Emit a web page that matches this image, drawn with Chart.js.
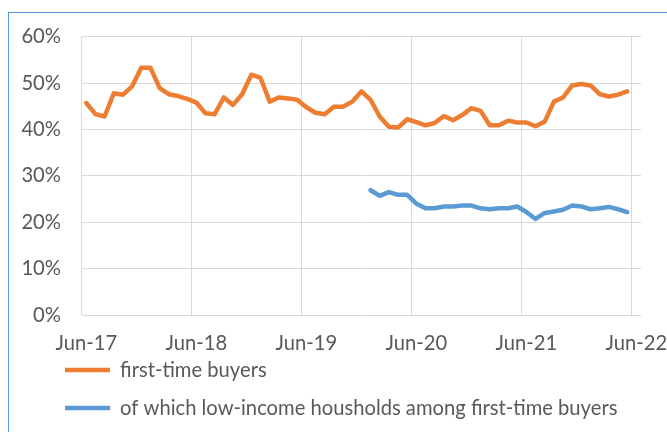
<!DOCTYPE html>
<html>
<head>
<meta charset="utf-8">
<script src="https://cdn.jsdelivr.net/npm/chart.js@4.4.1/dist/chart.umd.min.js"></script>
<style>
  html, body { margin: 0; padding: 0; background: #ffffff; }
  #wrap { position: relative; width: 667px; height: 432px; overflow: hidden; background: #fff; }
  #frame { position: absolute; left: 8px; top: 12px; width: 700px; height: 500px; border: 1px solid #5B9BD5; box-sizing: border-box; }
  canvas { position: absolute; left: 0; top: 0; }
</style>
</head>
<body>
<div id="wrap">
  <div id="frame"></div>
  <canvas id="c" width="667" height="432"></canvas>
</div>
<script>
// Monthly categories Jun-17 ... Jun-22
const months = [
  'Jun-17','Jul-17','Aug-17','Sep-17','Oct-17','Nov-17','Dec-17','Jan-18','Feb-18','Mar-18','Apr-18','May-18',
  'Jun-18','Jul-18','Aug-18','Sep-18','Oct-18','Nov-18','Dec-18','Jan-19','Feb-19','Mar-19','Apr-19','May-19',
  'Jun-19','Jul-19','Aug-19','Sep-19','Oct-19','Nov-19','Dec-19','Jan-20','Feb-20','Mar-20','Apr-20','May-20',
  'Jun-20','Jul-20','Aug-20','Sep-20','Oct-20','Nov-20','Dec-20','Jan-21','Feb-21','Mar-21','Apr-21','May-21',
  'Jun-21','Jul-21','Aug-21','Sep-21','Oct-21','Nov-21','Dec-21','Jan-22','Feb-22','Mar-22','Apr-22','May-22',
  'Jun-22'
];

// Share of first-time buyers (%)
const firstTimeBuyers = [
  45.7, 43.3, 42.8, 47.8, 47.5, 49.3, 53.3, 53.3, 48.9, 47.6, 47.2, 46.6,
  45.8, 43.5, 43.3, 46.9, 45.3, 47.6, 51.8, 51.1, 46.0, 46.9, 46.7, 46.4,
  44.8, 43.6, 43.3, 44.9, 44.9, 46.0, 48.2, 46.4, 42.8, 40.6, 40.4, 42.2,
  41.6, 40.9, 41.4, 42.9, 42.0, 43.1, 44.6, 44.0, 40.9, 40.9, 41.9, 41.5,
  41.5, 40.7, 41.7, 46.0, 46.9, 49.5, 49.8, 49.5, 47.6, 47.1, 47.5, 48.2,
  null
];

// Of which low-income households among first-time buyers (%)
const lowIncome = [
  null, null, null, null, null, null, null, null, null, null, null, null,
  null, null, null, null, null, null, null, null, null, null, null, null,
  null, null, null, null, null, null, null, 26.9, 25.7, 26.5, 25.9, 25.9,
  24.0, 23.0, 23.0, 23.4, 23.4, 23.6, 23.6, 23.0, 22.8, 23.0, 23.0, 23.4,
  22.2, 20.7, 22.0, 22.3, 22.7, 23.6, 23.4, 22.8, 23.0, 23.3, 22.8, 22.2,
  null
];

const seriesNames = ['first-time buyers', 'of which low-income housholds among first-time buyers'];
const yTicks = [0, 10, 20, 30, 40, 50, 60];

const FONT = { family: 'Lato, "Open Sans", sans-serif', size: 20.2 };
const TEXT = '#595959';
const GRID = '#D9D9D9';

// place the legend block where the reference has it
const legendPlacer = {
  id: 'legendPlacer',
  afterLayout(chart) {
    const lg = chart.legend;
    if (!lg) return;
    const h = lg.height;
    lg.left = 47.2;
    lg.right = 650;
    lg.top = 342.1;
    lg.bottom = lg.top + h;
  }
};

new Chart(document.getElementById('c'), {
  type: 'line',
  data: {
    labels: months,
    datasets: [
      {
        label: seriesNames[0],
        data: firstTimeBuyers,
        borderColor: '#ED7D31',
        backgroundColor: '#ED7D31',
        borderWidth: 4.5,
        borderCapStyle: 'round',
        borderJoinStyle: 'round',
        pointRadius: 0,
        tension: 0,
        spanGaps: false
      },
      {
        label: seriesNames[1],
        data: lowIncome,
        borderColor: '#5B9BD5',
        backgroundColor: '#5B9BD5',
        borderWidth: 4.5,
        borderCapStyle: 'round',
        borderJoinStyle: 'round',
        pointRadius: 0,
        tension: 0,
        spanGaps: false
      }
    ]
  },
  plugins: [legendPlacer],
  options: {
    responsive: false,
    animation: false,
    devicePixelRatio: 1,
    layout: { padding: { top: 36.7, left: 20, right: 26, bottom: -9 } },
    plugins: {
      tooltip: { enabled: false },
      legend: {
        position: 'bottom',
        align: 'start',
        labels: {
          usePointStyle: true,
          pointStyle: 'line',
          pointStyleWidth: 45,
          boxHeight: 5,
          padding: 17.8,
          color: TEXT,
          font: FONT
        }
      }
    },
    scales: {
      x: {
        type: 'category',
        offset: true,
        border: { display: false },
        grid: {
          offset: true,
          drawTicks: false,
          lineWidth: 1,
          color: (ctx) => (ctx.index !== undefined && ctx.index % 12 === 0) ? GRID : 'rgba(0,0,0,0)'
        },
        ticks: {
          autoSkip: false,
          maxRotation: 0,
          minRotation: 0,
          padding: 15.9,
          color: TEXT,
          font: FONT,
          callback: function(val, idx) { return idx % 12 === 0 ? months[idx] : ''; }
        },
        afterFit: (s) => { s.height = 40; s.paddingLeft = 0; s.paddingRight = 0; }
      },
      y: {
        min: yTicks[0],
        max: yTicks[yTicks.length - 1],
        border: { display: false },
        grid: { color: GRID, lineWidth: 1, drawTicks: false },
        afterBuildTicks: (s) => { s.ticks = yTicks.map(v => ({ value: v })); },
        ticks: {
          padding: 20.7,
          color: TEXT,
          font: FONT,
          callback: (v) => v + '%'
        },
        afterFit: (s) => { s.width = 61.7; }
      }
    }
  }
});
</script>
</body>
</html>
